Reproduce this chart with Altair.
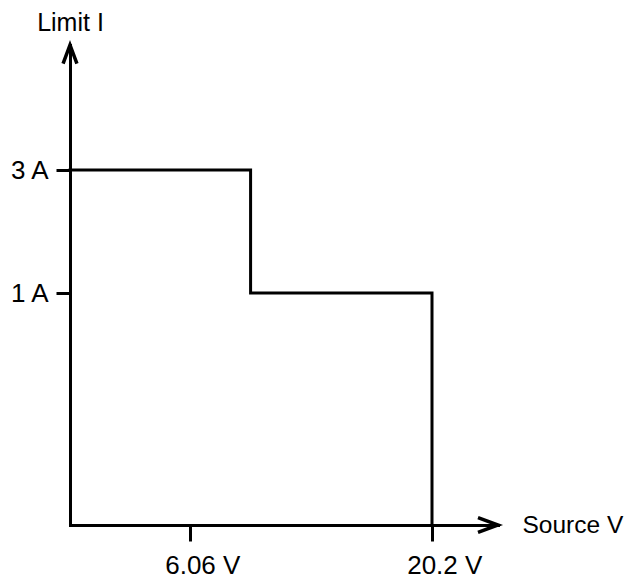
import altair as alt
import pandas as pd

# Step boundary (Source V vs Limit I)
step_v = [0, 9.6, 9.6, 20.2, 20.2]
step_i = [3, 3, 1, 1, 0]

# Axis ticks
x_ticks = [6.06, 20.2]
y_ticks = [1, 3]

# Axis ends (arrow tips)
x_end = 23.9
y_end = 4.42

x_scale = alt.Scale(domain=[0, 6.06, 20.2, x_end], range=[0, 120, 362, 428], clamp=False)
y_scale = alt.Scale(domain=[0, 1, 3, y_end], range=[480, 248, 125, 0], clamp=False)

FONT = "Liberation Sans"
FS = 26

step_df = pd.DataFrame({"v": step_v, "i": step_i, "order": list(range(len(step_v)))})

x_axis = alt.Axis(
    values=x_ticks, labelExpr="datum.value + ' V'", grid=False,
    domainWidth=3, domainColor="black", domainCap="square",
    tickWidth=3, tickColor="black", tickSize=16,
    labelFontSize=FS, labelFont=FONT, labelColor="black", labelPadding=32,
    labelAlign="left", labelOffset=-25.3, labelBaseline="alphabetic",
    labelFlush=False, labelOverlap=False,
    title="Source V", titleFont=FONT, titleFontSize=24.5, titleFontWeight="normal",
    titleColor="black", titleAngle=0, titleAlign="left", titleBaseline="middle",
    titleX=452, titleY=0,
)
y_axis = alt.Axis(
    values=y_ticks, labelExpr="datum.value + ' A'", grid=False,
    domainWidth=3, domainColor="black", domainCap="square",
    tickWidth=3, tickColor="black", tickSize=14,
    labelFontSize=FS, labelFont=FONT, labelColor="black", labelPadding=8,
    labelOverlap=False, labelFlush=False,
    title="Limit I", titleFont=FONT, titleFontSize=25, titleFontWeight="normal",
    titleColor="black", titleAngle=0, titleAlign="center", titleBaseline="alphabetic",
    titleX=0, titleY=-15,
)

line = alt.Chart(step_df).mark_line(
    color="black", strokeWidth=3, strokeJoin="miter", strokeCap="square"
).encode(
    x=alt.X("v:Q", scale=x_scale, axis=x_axis),
    y=alt.Y("i:Q", scale=y_scale, axis=y_axis),
    order="order:Q",
)

x_arrow = alt.Chart(pd.DataFrame({"v": [x_end], "i": [0]})).mark_point(
    shape="M-1,-0.37L0,0L-1,0.37", filled=False, stroke="black", strokeWidth=3.5,
    strokeJoin="miter", size=1600, opacity=1,
).encode(x=alt.X("v:Q", scale=x_scale), y=alt.Y("i:Q", scale=y_scale))

y_arrow = alt.Chart(pd.DataFrame({"v": [0], "i": [y_end]})).mark_point(
    shape="M-0.37,1L0,0L0.37,1", filled=False, stroke="black", strokeWidth=3.5,
    strokeJoin="miter", size=1400, opacity=1,
).encode(x=alt.X("v:Q", scale=x_scale), y=alt.Y("i:Q", scale=y_scale))

chart = alt.layer(line, x_arrow, y_arrow).properties(
    width=428, height=480,
    background="white",
    autosize=alt.AutoSizeParams(type="none"),
    padding={"left": 62, "top": 37, "right": 128, "bottom": 54},
).configure_view(stroke=None, strokeWidth=0)

chart.save("out.html", embed_options={"renderer": "svg", "actions": False})
